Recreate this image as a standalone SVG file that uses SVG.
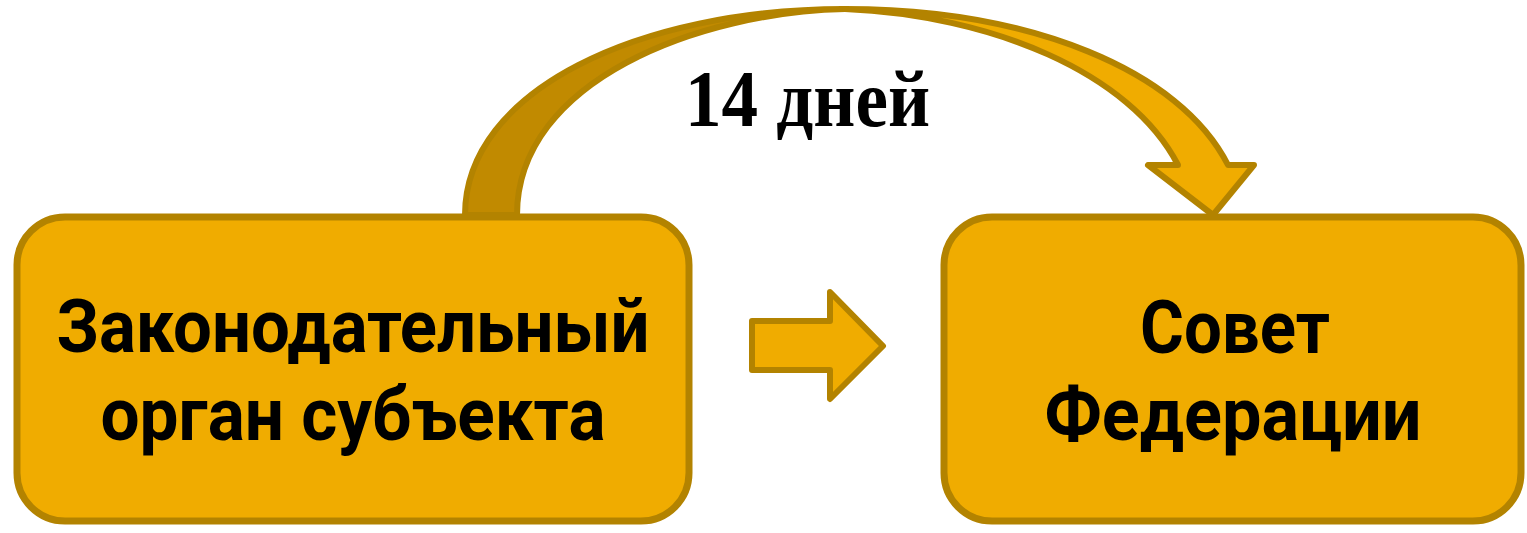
<svg xmlns="http://www.w3.org/2000/svg" width="1527" height="533" viewBox="0 0 1527 533">
<style>
.box{fill:#F0AC00;stroke:#B38300;stroke-width:7}
.arr{stroke:#B38300;stroke-width:6;stroke-linejoin:round}
.lbl{font-family:Roboto,"Liberation Sans",sans-serif;font-weight:bold;font-size:74px;fill:#000;text-anchor:middle}
.days{font-family:"Liberation Serif","Times New Roman",serif;font-weight:bold;font-size:80px;fill:#000}
</style>
<rect width="1527" height="533" fill="#fff"/>
<g id="connectors">
  <path class="arr" fill="#C18A00" d="M465,215 C465,90 640,9 845,9 C700,12 517,80 517,215 Z"/>
  <path class="arr" fill="#F0AC00" d="M845,9 C1030,9 1180,70 1228,165 L1254,165 L1213,215 L1148,165 L1178,165 C1130,72 990,15 845,9 Z"/>
  <path class="arr" fill="#F0AC00" d="M752,321 L830,321 L830,292 L883,346 L830,399 L830,370 L752,370 Z"/>
  <text class="days" x="685" y="126" textLength="245" lengthAdjust="spacingAndGlyphs">14 дней</text>
</g>
<g id="node-left">
  <rect class="box" x="17" y="217" width="672" height="304" rx="48"/>
  <text class="lbl" x="353" y="352" textLength="593" lengthAdjust="spacingAndGlyphs">Законодательный</text>
  <text class="lbl" x="353" y="440" textLength="505" lengthAdjust="spacingAndGlyphs">орган субъекта</text>
</g>
<g id="node-right">
  <rect class="box" x="944" y="217" width="577" height="304" rx="48"/>
  <text class="lbl" x="1235" y="353" textLength="190" lengthAdjust="spacingAndGlyphs">Совет</text>
  <text class="lbl" x="1233" y="440" textLength="377" lengthAdjust="spacingAndGlyphs">Федерации</text>
</g>
</svg>
